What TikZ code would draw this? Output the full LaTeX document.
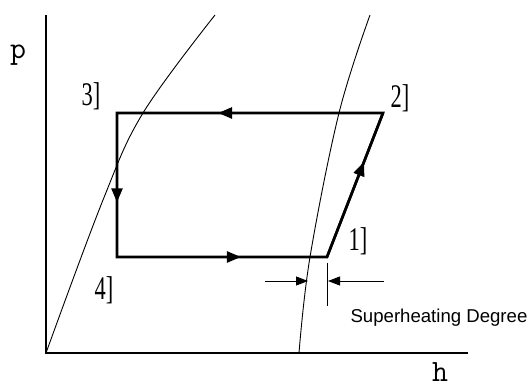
\documentclass[tikz,border=0pt]{standalone}
\usepackage{fontspec}
\setmainfont{Liberation Serif}
\setsansfont{Liberation Sans}
\usetikzlibrary{arrows.meta,decorations.markings}
\tikzset{
  axis/.style={line width=1.2pt},
  satline/.style={line width=0.9pt},
  cycleline/.style={line width=2.6pt},
  midarrow/.style={postaction={decorate,decoration={markings,
    mark=at position #1 with {\arrow{Triangle[length=14pt,width=11pt]}}}}},
  statelbl/.style={font=\fontsize{33}{35}\selectfont,xscale=0.68,inner sep=0pt},
  axislbl/.style={font=\ttfamily\fontsize{31}{33}\selectfont,inner sep=0pt},
  dimarrow/.style={line width=0.9pt,-{Triangle[length=12pt,width=9pt]}},
}

\begin{document}
\begin{tikzpicture}[x=1pt,y=-1pt]
  \useasboundingbox (0,0) rectangle (530,390);
  % axes
  \coordinate (O) at (46,353);
  \coordinate (ptop) at (46,15);
  \coordinate (hend) at (468,353);
  \draw[axis] (ptop) -- (O) -- (hend);
  \node[axislbl] (plbl) at (18,55) {p};
  \node[axislbl] (hlbl) at (440,372) {h};
  % saturation curves
  \draw[satline] plot[smooth,tension=.6] coordinates {(46,353) (103,200) (143,113) (215,15)};
  \draw[satline] plot[smooth,tension=.6] coordinates {(299,353) (310,257) (339,113) (370,15)};
  % cycle
  \coordinate (s1) at (327,257);
  \coordinate (s2) at (383,113);
  \coordinate (s3) at (117,113);
  \coordinate (s4) at (117,257);
  \draw[cycleline,midarrow=.66] (s1) -- (s2);
  \draw[cycleline,midarrow=.62] (s2) -- (s3);
  \draw[cycleline,midarrow=.62] (s3) -- (s4);
  \draw[cycleline,midarrow=.59] (s4) -- (s1);
  \draw[cycleline,line join=miter] (s1) -- (s2) -- (s3) -- (s4) -- cycle;
  \node[statelbl] (l1) at (358,241) {1]};
  \node[statelbl] (l2) at (400,98) {2]};
  \node[statelbl] (l3) at (91,96) {3]};
  \node[statelbl] (l4) at (104,290) {4]};
  % superheating degree
  \coordinate (dl) at (265,281);
  \coordinate (dlt) at (308,281);
  \coordinate (dr) at (384,281);
  \coordinate (drt) at (328,281);
  \coordinate (tk1) at (327,263);
  \coordinate (tk2) at (327,306);
  \draw[dimarrow] (dl) -- (dlt);
  \draw[dimarrow] (dr) -- (drt);
  \draw[line width=0.9pt] (tk1) -- (tk2);
  \node[font=\sffamily\fontsize{18.6}{20}\selectfont,inner sep=0pt] (shd) at (439,318) {Superheating Degree};
\end{tikzpicture}
\end{document}
